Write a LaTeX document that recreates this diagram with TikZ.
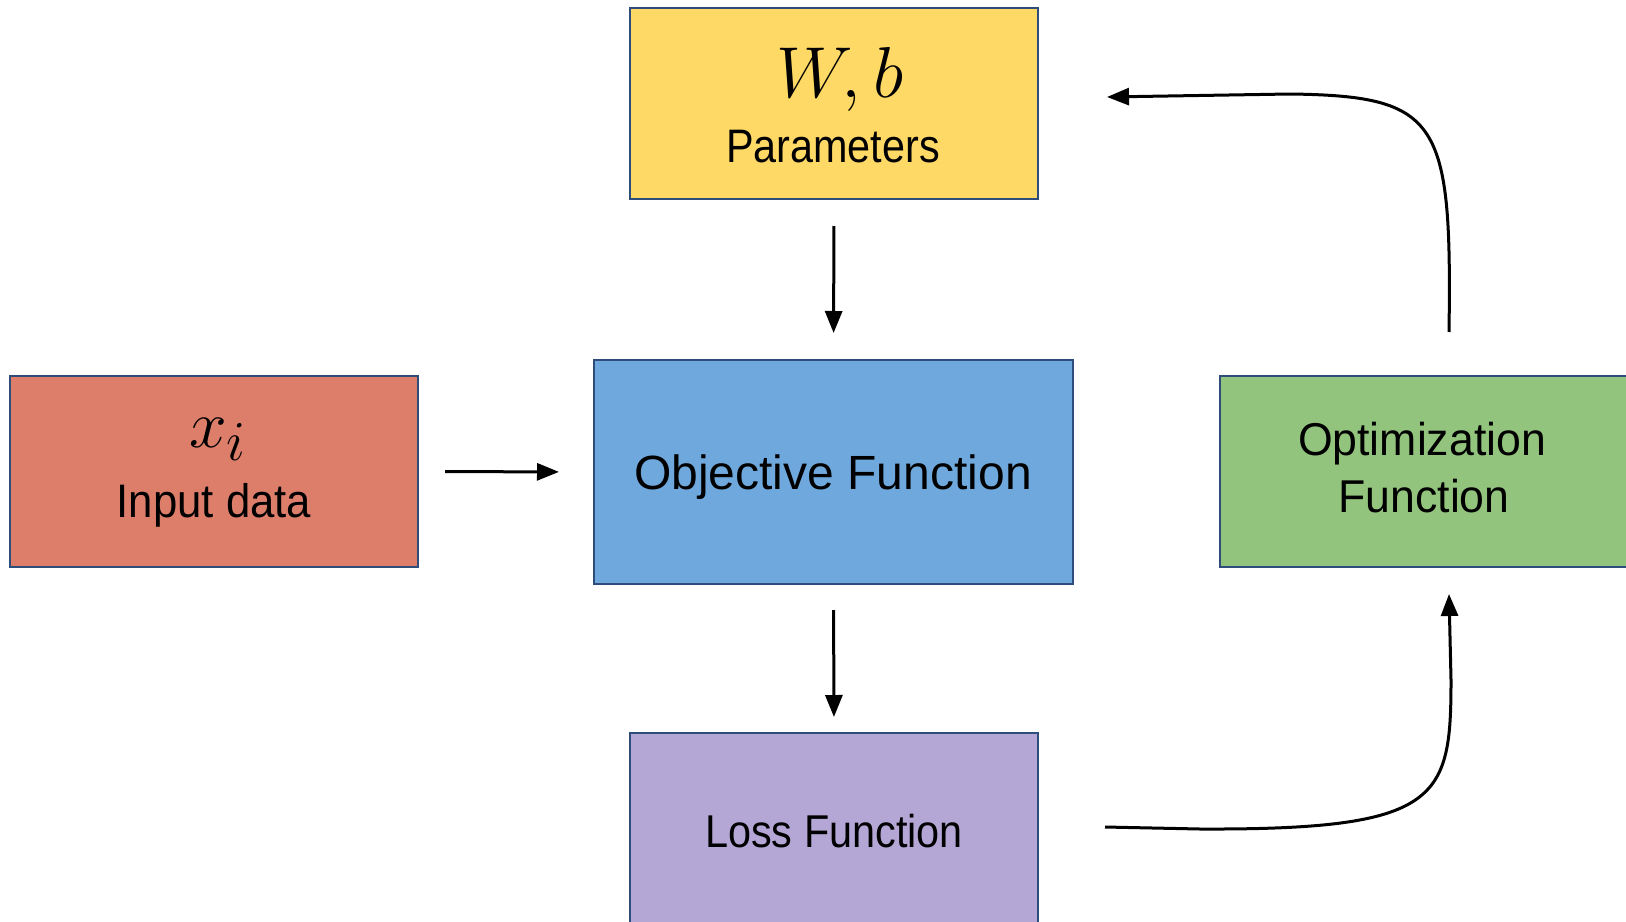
\documentclass[tikz,border=0pt]{standalone}
\usepackage{fontspec}
\setmainfont{Liberation Sans}
\usetikzlibrary{arrows.meta,calc}
\definecolor{cyellow}{HTML}{FFD966}
\definecolor{cred}{HTML}{DD7E6B}
\definecolor{cblue}{HTML}{6FA8DC}
\definecolor{cgreen}{HTML}{93C47D}
\definecolor{cpurple}{HTML}{B4A7D6}
\definecolor{cborder}{HTML}{2E4D7B}
\newcommand{\sq}[2]{\scalebox{#1}[1]{#2}}
\begin{document}
\begin{tikzpicture}[x=0.5pt,y=-0.5pt,
  box/.style={draw=cborder, line width=1pt, inner sep=0pt},
  smallbox/.style={box, minimum width=204pt, minimum height=95.5pt},
  lbl/.style={anchor=base, inner sep=0pt, text=black},
  arr/.style={-{Triangle[length=11pt,width=8.5pt]}, line width=1.5pt, black}]
\useasboundingbox (0,0) rectangle (1626,921);
\clip (0,0) rectangle (1626,921);
% boxes
\node[smallbox, fill=cyellow] (par) at (834,103.5) {};
\node[smallbox, fill=cred] (inp) at (214,471.5) {};
\node[box, fill=cblue, minimum width=239.5pt, minimum height=112pt] (obj) at (833.5,472) {};
\node[box, fill=cgreen, minimum width=204pt, minimum height=95.5pt] (opt) at (1424,471.5) {};
\node[box, fill=cpurple, minimum width=204pt, minimum height=102pt] (loss) at (834,835) {};
% texts
\node[lbl] (wb) at (840,97) {\scalebox{1.45}{\Huge $W, b$}};
\node[lbl, font=\fontsize{23.5}{27}\selectfont] (partxt) at (833,162) {\sq{0.88}{Parameters}};
\node[lbl] (xi) at (218,447) {\scalebox{1.36}{\Huge $x_i$}};
\node[lbl, font=\fontsize{23.5}{27}\selectfont] (inptxt) at (214,517) {\sq{0.93}{Input data}};
\node[lbl, font=\fontsize{24}{28}\selectfont] (objtxt) at (833,489) {Objective Function};
\node[lbl, font=\fontsize{23}{27}\selectfont] (opttxt1) at (1422,455) {\sq{0.97}{Optimization}};
\node[lbl, font=\fontsize{23}{27}\selectfont] (opttxt2) at (1424,512) {\sq{0.97}{Function}};
\node[lbl, font=\fontsize{23}{27}\selectfont] (losstxt) at (834,847) {\sq{0.9}{Loss Function}};
% straight connectors
\draw[arr, shorten <=13pt, shorten >=13pt] (par.south) -- (obj.north);
\draw[arr, shorten <=12.5pt, shorten >=7.5pt] (obj.south) -- (loss.north);
\draw[arr, shorten <=13pt, shorten >=17pt] (inp.east) -- (obj.west);
% curved connectors
\coordinate (optTop) at (1449,332);
\coordinate (parEnd) at (1107,97);
\coordinate (lossStart) at (1105,827);
\coordinate (optBot) at (1449,594);
\draw[arr] (optTop) .. controls (1452,120) and (1440,96) .. (1290,94) -- (parEnd);
\draw[arr] (lossStart) -- (1200,829) .. controls (1440,830) and (1451,800) .. (1451,680) -- (optBot);
\end{tikzpicture}
\end{document}
